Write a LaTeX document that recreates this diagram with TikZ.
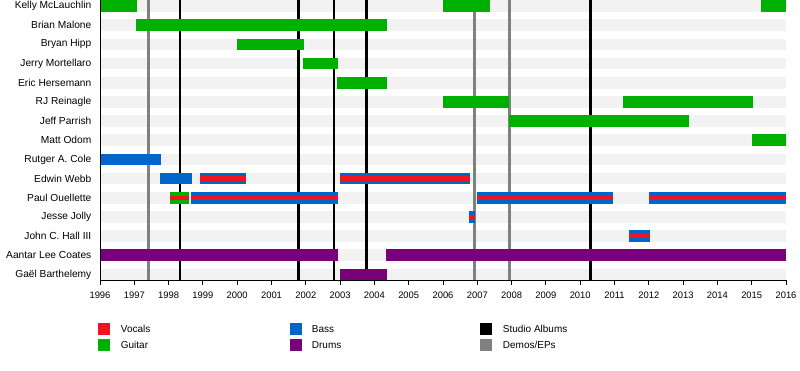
\documentclass[tikz,border=0pt]{standalone}
\usepackage{fontspec}
\setmainfont{Liberation Sans}
\definecolor{guitar}{RGB}{0,176,0}
\definecolor{bass}{RGB}{0,102,204}
\definecolor{drums}{RGB}{120,0,120}
\definecolor{vocals}{RGB}{240,20,30}
\definecolor{demo}{RGB}{128,128,128}
\definecolor{stripe}{RGB}{242,242,242}
\newcommand\tlx[1]{{100+34.3*(#1-1996)}}
\newcommand\tlbar[4]{\fill[#4] (\tlx{#2},{6+19.18*#1-5.85}) rectangle (\tlx{#3},{6+19.18*#1+5.85});}
\newcommand\tlvoc[3]{\fill[vocals] (\tlx{#2},{6+19.18*#1-2.3}) rectangle (\tlx{#3},{6+19.18*#1+2.3});}
\newcommand\tlline[2]{\draw[#2, line width=2.7pt] (\tlx{#1},0) -- (\tlx{#1},280.3);}
\tikzset{
  namelab/.style={anchor=east, inner sep=0pt, font=\fontsize{10.2}{12}\selectfont},
  yearlab/.style={anchor=center, inner sep=0pt, font=\fontsize{9.4}{11}\selectfont},
  leglab/.style={anchor=west, inner sep=0pt, font=\fontsize{10}{12}\selectfont},
  legbox/.style={minimum size=12pt, inner sep=0pt, draw=none}
}
\begin{document}
\begin{tikzpicture}[x=1pt,y=-1pt]
\useasboundingbox (0,0) rectangle (800,370);
\fill[white] (0,0) rectangle (800,370);
% stripes
\foreach \i in {0,...,14} {
  \fill[stripe] (101,{6+19.18*\i-5.85}) rectangle (786,{6+19.18*\i+5.85});
}
% album lines
\tlline{1997.41}{demo}
\tlline{2006.91}{demo}
\tlline{2007.93}{demo}
\tlline{1998.33}{black}
\tlline{2001.78}{black}
\tlline{2002.82}{black}
\tlline{2003.76}{black}
\tlline{2010.31}{black}
% bars
\tlbar{0}{1996}{1997.08}{guitar}
\tlbar{0}{2006.0}{2007.37}{guitar}
\tlbar{0}{2015.27}{2016}{guitar}
\tlbar{1}{1997.05}{2004.36}{guitar}
\tlbar{2}{2000.0}{2001.94}{guitar}
\tlbar{3}{2001.92}{2002.94}{guitar}
\tlbar{4}{2002.91}{2004.36}{guitar}
\tlbar{5}{2006.0}{2007.93}{guitar}
\tlbar{5}{2011.25}{2015.03}{guitar}
\tlbar{6}{2007.93}{2013.17}{guitar}
\tlbar{7}{2015.02}{2016}{guitar}
\tlbar{8}{1996}{1997.78}{bass}
\tlbar{9}{1997.75}{1998.68}{bass}
\tlbar{9}{1998.92}{2000.26}{bass}\tlvoc{9}{1998.92}{2000.26}
\tlbar{9}{2003.0}{2006.79}{bass}\tlvoc{9}{2003.0}{2006.79}
\tlbar{10}{1998.04}{1998.6}{guitar}\tlvoc{10}{1998.04}{1998.6}
\tlbar{10}{1998.64}{2002.94}{bass}\tlvoc{10}{1998.64}{2002.94}
\tlbar{10}{2006.99}{2010.95}{bass}\tlvoc{10}{2006.99}{2010.95}
\tlbar{10}{2012.0}{2016}{bass}\tlvoc{10}{2012.0}{2016}
\tlbar{11}{2006.76}{2006.94}{bass}\tlvoc{11}{2006.76}{2006.94}
\tlbar{12}{2011.42}{2012.03}{bass}\tlvoc{12}{2011.42}{2012.03}
\tlbar{13}{1996}{2002.94}{drums}
\tlbar{13}{2004.35}{2016}{drums}
\tlbar{14}{2003.0}{2004.37}{drums}
% axes
\draw[black, line width=0.9pt] (100,0) -- (100,280.3) -- (786,280.3);
\foreach \y in {1996,...,2016} {
  \draw[black, line width=0.9pt] (\tlx{\y},280.3) -- (\tlx{\y},284.8);
  \node[yearlab] (y\y) at (\tlx{\y},295.5) {\y};
}
% names
\foreach \i/\nm in {0/Kelly McLauchlin,1/Brian Malone,2/Bryan Hipp,3/Jerry Mortellaro,4/Eric Hersemann,5/RJ Reinagle,6/Jeff Parrish,7/Matt Odom,8/Rutger A. Cole,9/Edwin Webb,10/Paul Ouellette,11/Jesse Jolly,12/John C. Hall III,13/Aantar Lee Coates,14/Gaël Barthelemy} {
  \node[namelab] (n\i) at (91.5,{6+19.18*\i}) {\nm};
}
% legend
\node[legbox, fill=vocals] (lv) at (104.2,328.7) {};
\node[leglab] (lvt) at (120.7,328.7) {Vocals};
\node[legbox, fill=guitar] (lg) at (104.2,345.4) {};
\node[leglab] (lgt) at (120.7,345.4) {Guitar};
\node[legbox, fill=bass] (lb) at (295.6,328.7) {};
\node[leglab] (lbt) at (311.7,328.7) {Bass};
\node[legbox, fill=drums] (ld) at (295.6,345.4) {};
\node[leglab] (ldt) at (311.7,345.4) {Drums};
\node[legbox, fill=black] (ls) at (486.3,328.7) {};
\node[leglab] (lst) at (502.7,328.7) {Studio Albums};
\node[legbox, fill=demo] (le) at (486.3,345.4) {};
\node[leglab] (let) at (502.7,345.4) {Demos/EPs};
\end{tikzpicture}
\end{document}
